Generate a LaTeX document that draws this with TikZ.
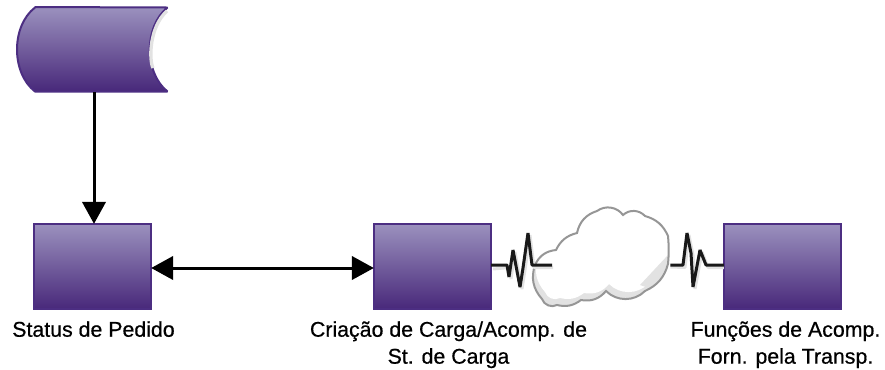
\documentclass[tikz,border=0pt]{standalone}
\usepackage{fontspec}
\setmainfont{Liberation Sans}
\newfontfamily\capfont[FakeBold=0.6]{Liberation Sans}
\usetikzlibrary{arrows.meta}
\definecolor{ctop}{RGB}{155,145,190}
\definecolor{cbottom}{RGB}{72,40,122}
\definecolor{cedge}{RGB}{76,46,130}
\definecolor{cshadow}{RGB}{226,226,226}
\definecolor{ccloud}{RGB}{150,150,150}
\newcommand{\cloudpath}{(535,265) to[bend left=30] (556,250) to[bend left=25] (577,233) to[bend left=30] (597,211) to[bend left=45] (623,215)
  to[bend left=45] (645,216) to[bend left=25] (668,236) to[bend left=5] (668,264) to[bend left=25] (645,291)
  to[bend left=45] (606,291) to[bend left=30] (581,300) to[bend left=25] (557,305) to[bend left=50] (542,299) to[bend left=30] (535,265) -- cycle}
\tikzset{
  procbox/.style={draw=cedge,line width=1.5pt,top color=ctop,bottom color=cbottom,inner sep=0,outer sep=0,minimum width=88pt,minimum height=64pt},
  caption/.style={anchor=north,align=center,inner sep=0,font=\capfont\fontsize{16}{20.2}\selectfont},
  link/.style={line width=2.25pt,-{Triangle[length=16.5pt,width=17.5pt]}},
  linkboth/.style={line width=2.25pt,{Triangle[length=16.5pt,width=17.5pt]}-{Triangle[length=16.5pt,width=17.5pt]}},
  spike/.style={line width=2.25pt,black!90,line join=bevel},
  spikeshade/.style={line width=2.25pt,cshadow,line join=bevel}
}
\begin{document}
\begin{tikzpicture}[x=0.75pt,y=-0.75pt]
\useasboundingbox (0,0) rectangle (885,369);

% stored data shape
\node[inner sep=0,outer sep=0,minimum width=113.25pt,minimum height=63.75pt] (source) at (92.5,49.5) {};
\draw[draw=cedge,line width=1.5pt,line join=bevel,top color=ctop,bottom color=cbottom]
  (source.north west) ++(18,0) -- (167.5,7.5) .. controls (144,26) and (144,73) .. (167.5,91.5)
  -- (35,91.5) .. controls (11,73) and (11,26) .. (35,7.5) -- cycle;
\draw[cshadow,line width=2.5pt] (167,11) .. controls (149,27) and (149,60) .. (153,68);

% boxes
\node[procbox] (status) at (92.5,266.5) {};
\node[procbox] (carga) at (432.5,266.5) {};
\node[procbox] (funcoes) at (782.5,266.5) {};

% labels
\node[caption] (statuslbl) at (93.5,321) {Status de Pedido};
\node[caption] (cargalbl) at (448.5,321) {Criação de Carga/Acomp. de\\St. de Carga};
\node[caption] (funcoeslbl) at (785.5,321) {Funções de Acomp.\\Forn. pela Transp.};

% arrows
\draw[link] (source.south) ++(1.5,0) -- (status.north -| 94,0);
\draw[linkboth] (status.east |- 0,268) -- (carga.west |- 0,268);

% cloud
\node[inner sep=0,outer sep=0,minimum width=104pt,minimum height=78pt] (cloud) at (601,259) {};
\begin{scope}
\clip \cloudpath;
\fill[cshadow] (525,200) rectangle (680,315);
\fill[white,shift={(3,-7)}] \cloudpath;
\fill[cshadow] (668,255) -- (640,285) -- (670,295) -- cycle;
\end{scope}
\draw[ccloud,line width=1.5pt] \cloudpath;

% connectors
\draw[spikeshade] (carga.east) ++(2,2.5) -- (509,267.5) -- (511,279) -- (515,252) -- (522,289) -- (525,270) -- (530,235) -- (534,267.5) -- (553,267.5);
\draw[spike] (carga.east) ++(0,-1.5) -- (507,265) -- (509,277) -- (513,250) -- (520,287) -- (523,268) -- (528,233) -- (532,265) -- (552,265);
\draw[spikeshade] (cloud.east) ++(0,8) -- (685,267.5) -- (689,235) -- (693,255) -- (695,289) -- (702,252) -- (708,267.5) -- (funcoes.west |- 0,267.5);
\draw[spike] (cloud.east) ++(0,6) -- (683,265) -- (687,233) -- (691,253) -- (693,287) -- (700,250) -- (706,265) -- (funcoes.west |- 0,265);
\end{tikzpicture}
\end{document}
